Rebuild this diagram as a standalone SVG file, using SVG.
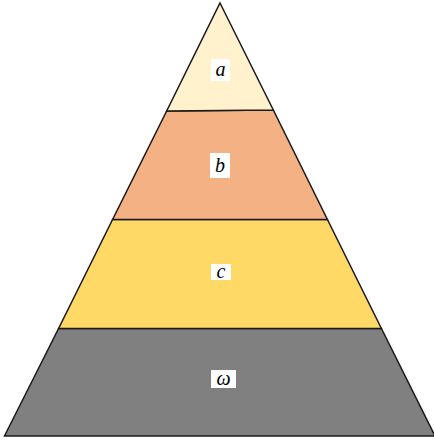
<svg xmlns="http://www.w3.org/2000/svg" width="434" height="441" viewBox="0 0 434 441">
<style>
.layer{stroke:#1a1a1a;stroke-width:1.5;stroke-linejoin:miter}
.box{fill:#ffffff;stroke:none}
.lbl{font-family:"Liberation Serif","Times New Roman",serif;font-style:italic;font-size:20px;fill:#000;text-anchor:middle}
</style>
<rect width="434" height="441" fill="#ffffff"/>
<g id="layer-omega">
<polygon class="layer" points="58.6,328.5 381.4,328.5 435,436 4.5,436" fill="#808080"/>
<rect class="box" x="211" y="370" width="25" height="18"/>
<text class="lbl" x="223.5" y="385">ω</text>
</g>
<g id="layer-c">
<polygon class="layer" points="112.6,219.5 327.4,219.5 381.4,328.5 58.6,328.5" fill="#FFD966"/>
<rect class="box" x="211" y="264" width="20" height="16"/>
<text class="lbl" x="221" y="278">c</text>
</g>
<g id="layer-b">
<polygon class="layer" points="166.7,111 273.3,110 327.4,219.5 112.6,219.5" fill="#F4B183"/>
<rect class="box" x="210" y="153" width="20" height="25"/>
<text class="lbl" x="220" y="172">b</text>
</g>
<g id="layer-a">
<polygon class="layer" points="220,3 273.3,110 166.7,111" fill="#FFF2CC"/>
<rect class="box" x="211" y="59" width="19" height="22"/>
<text class="lbl" x="220.5" y="76">a</text>
</g>
<g id="connectors"></g>
</svg>
